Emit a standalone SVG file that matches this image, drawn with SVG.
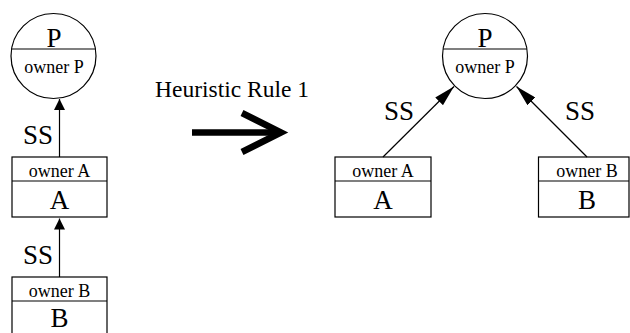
<svg xmlns="http://www.w3.org/2000/svg" width="630" height="333" viewBox="0 0 630 333">
<style>
.s{fill:none;stroke:#000;stroke-width:1.2}
.t{font-family:'Liberation Serif','Times New Roman',serif;fill:#000;text-anchor:middle}
.big{font-size:27px}
.sm{font-size:18px}
.ss{font-size:27px;text-anchor:start}
.e{stroke:#000;stroke-width:1.2;fill:none}
</style>
<defs>
<marker id="ah" viewBox="0 0 11 21" refX="11" refY="10.5" markerWidth="11" markerHeight="21" markerUnits="userSpaceOnUse" orient="auto">
<path d="M0,5 L11,10.5 L0,16 Z" fill="#000"/>
</marker>
<marker id="ah2" viewBox="0 0 21 11" refX="21" refY="5.5" markerWidth="21" markerHeight="11" markerUnits="userSpaceOnUse" orient="auto">
<path d="M0,0 L21,5.5 L0,11 Z" fill="#000"/>
</marker>
</defs>
<g id="left-P">
<circle class="s" cx="53.5" cy="56" r="42.5"/>
<line class="s" x1="11" y1="49" x2="96" y2="49"/>
<text class="t big" x="54" y="47">P</text>
<text class="t sm" x="54" y="73">owner P</text>
</g>
<g id="left-A">
<rect class="s" x="12" y="157" width="95" height="60"/>
<line class="s" x1="12" y1="181" x2="107" y2="181"/>
<text class="t sm" x="59.5" y="177">owner A</text>
<text class="t big" x="59.5" y="209">A</text>
</g>
<g id="left-B">
<rect class="s" x="12" y="277" width="95" height="60"/>
<line class="s" x1="12" y1="301" x2="107" y2="301"/>
<text class="t sm" x="59.5" y="297">owner B</text>
<text class="t big" x="59.5" y="327">B</text>
</g>
<g id="right-P">
<circle class="s" cx="485" cy="56" r="42.5"/>
<line class="s" x1="443" y1="49" x2="527" y2="49"/>
<text class="t big" x="485" y="47">P</text>
<text class="t sm" x="485" y="73">owner P</text>
</g>
<g id="right-A">
<rect class="s" x="335" y="157" width="96" height="60"/>
<line class="s" x1="335" y1="181" x2="431" y2="181"/>
<text class="t sm" x="383" y="177">owner A</text>
<text class="t big" x="383" y="209">A</text>
</g>
<g id="right-B">
<rect class="s" x="538.5" y="157" width="90.5" height="60"/>
<line class="s" x1="538.5" y1="181" x2="629" y2="181"/>
<text class="t sm" x="587" y="177">owner B</text>
<text class="t big" x="587" y="209">B</text>
</g>
<g id="rule">
<text class="t" style="font-size:23.5px;text-anchor:start" x="155" y="97">Heuristic Rule 1</text>
<line x1="192" y1="132.5" x2="279" y2="132.5" stroke="#000" stroke-width="6.5"/>
<polyline points="242,113 281,132.5 242,152" fill="none" stroke="#000" stroke-width="6.5" stroke-linejoin="miter"/>
</g>
<g id="connectors">
<line class="e" x1="59.5" y1="157" x2="59.5" y2="99" marker-end="url(#ah)"/>
<line class="e" x1="59.5" y1="277" x2="59.5" y2="218.5" marker-end="url(#ah)"/>
<line class="e" x1="383" y1="157" x2="454" y2="86.5" marker-end="url(#ah2)"/>
<line class="e" x1="587" y1="157" x2="516.5" y2="86.5" marker-end="url(#ah2)"/>
<text class="t ss" x="23" y="144">SS</text>
<text class="t ss" x="23" y="264">SS</text>
<text class="t ss" x="384" y="120">SS</text>
<text class="t ss" x="565" y="120">SS</text>
</g>
</svg>
